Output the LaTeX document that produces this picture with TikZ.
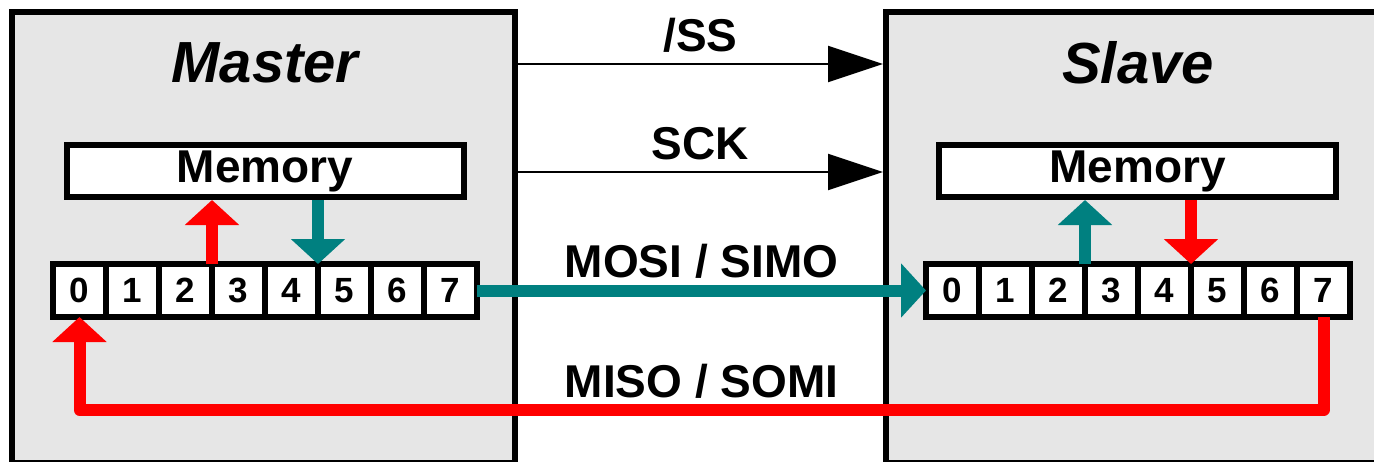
\documentclass[tikz,border=0pt]{standalone}
\usepackage{fontspec}
\setmainfont{Liberation Sans}
\usetikzlibrary{arrows.meta, positioning}

\definecolor{panelgray}{HTML}{E6E6E6}
\definecolor{sigteal}{HTML}{008080}

\begin{document}
\begin{tikzpicture}[
x=0.5pt, y=-0.5pt,
node distance=0pt,
unit/.style={draw, line width=3pt, fill=panelgray, inner sep=0pt},
title/.style={anchor=base, font=\fontsize{29}{35}\selectfont\bfseries\itshape},
mem/.style={draw, line width=3pt, fill=white, inner sep=0pt, minimum width=198.5pt, minimum height=26pt, font=\fontsize{23}{28}\selectfont\bfseries},
cell/.style={draw, line width=2.8pt, fill=white, inner sep=0pt, outer sep=0pt, minimum size=26.5pt, font=\fontsize{17.5}{21}\selectfont\bfseries},
sig/.style={-{Triangle[length=27.5pt, width=18pt]}, line width=1pt},
bus/.style={-{Triangle[length=12.5pt, width=26.5pt]}, line width=6pt, line join=round},
lbl/.style={midway, anchor=base, yshift=6.5pt, text=black, font=\fontsize{23}{28}\selectfont\bfseries}
]
\path[use as bounding box, clip] (0,0) rectangle (1374,461);

\node[unit, minimum width=251.5pt, minimum height=225.5pt] (master) at (263.5,237.5) {};

\node[unit, minimum width=257pt, minimum height=225.5pt] (slave) at (1143,237.5) {};

\node[title] (mastertitle) at (265,82) {Master};

\node[title] (slavetitle) at (1138,83) {Slave};

\node[mem] (mmem) at (265,171) {Memory};

\node[mem] (smem) at (1137.5,171) {Memory};

\node[cell] (m0) at (79.5,290.5) {0};
\node[cell, right=of m0] (m1) {1};
\node[cell, right=of m1] (m2) {2};
\node[cell, right=of m2] (m3) {3};
\node[cell, right=of m3] (m4) {4};
\node[cell, right=of m4] (m5) {5};
\node[cell, right=of m5] (m6) {6};
\node[cell, right=of m6] (m7) {7};

\node[cell] (s0) at (952.5,290.5) {0};
\node[cell, right=of s0] (s1) {1};
\node[cell, right=of s1] (s2) {2};
\node[cell, right=of s2] (s3) {3};
\node[cell, right=of s3] (s4) {4};
\node[cell, right=of s4] (s5) {5};
\node[cell, right=of s5] (s6) {6};
\node[cell, right=of s6] (s7) {7};

\draw[sig] (master.east |- 0,64) -- (slave.west |- 0,64) node[lbl] {/SS};
\draw[sig] (master.east |- 0,172) -- (slave.west |- 0,172) node[lbl] {SCK};
\draw[bus, sigteal] (m7.east) -- (s0.west) node[lbl] {MOSI / SIMO};
\draw[bus, red] (s7.south) -- (s7.south |- 0,410) -- node[lbl] {MISO / SOMI} (m0.south |- 0,410) -- (m0.south);

\draw[bus, red] (m2.north east) -- (m2.north east |- mmem.south);
\draw[bus, sigteal] (mmem.south -| m4.north east) -- (m4.north east);
\draw[bus, sigteal] (s2.north east) -- (s2.north east |- smem.south);
\draw[bus, red] (smem.south -| s4.north east) -- (s4.north east);

\end{tikzpicture}
\end{document}
